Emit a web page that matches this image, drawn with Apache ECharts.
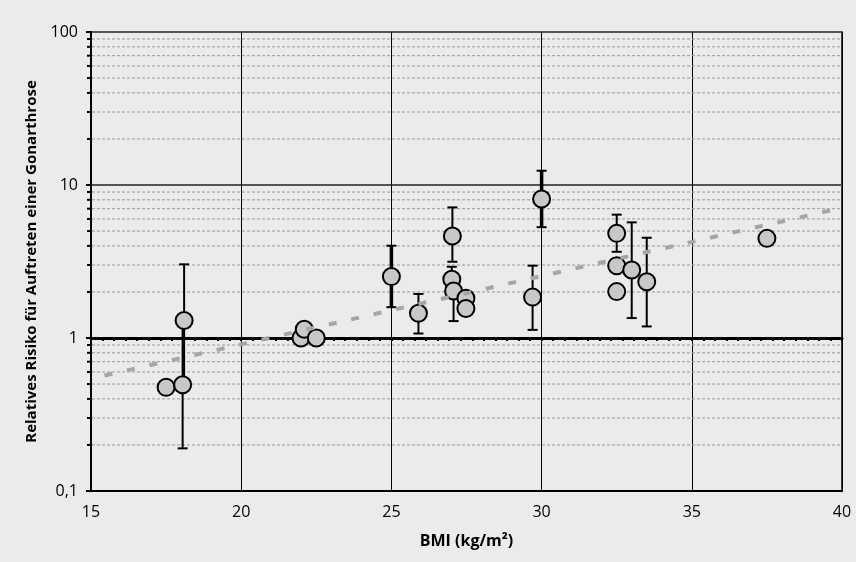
<!DOCTYPE html>
<html><head><meta charset="utf-8">
<script src="https://cdn.jsdelivr.net/npm/echarts@6/dist/echarts.min.js"></script>
<style>html,body{margin:0;padding:0;background:#ebebeb;}#c{width:856px;height:562px;}</style>
</head><body><div id="c"></div>
<script>
// Data (BMI, relative risk)
const points = [
  [17.5, 0.476], [18.05, 0.495], [18.1, 1.30],
  [21.99, 1.0], [22.1, 1.14], [22.5, 1.0],
  [25.0, 2.52], [25.9, 1.45],
  [27.03, 4.64], [27.01, 2.42], [27.07, 2.03], [27.48, 1.82], [27.48, 1.56],
  [29.7, 1.85], [30.0, 8.1],
  [32.5, 4.83], [32.5, 2.97], [32.5, 2.01], [33.0, 2.78], [33.5, 2.33],
  [37.5, 4.48]
];
// Error bars [x, low, high]
const errorBars = [
  [18.1, 0.50, 3.03], [18.05, 0.19, 1.30],
  [25.9, 1.07, 1.94],
  [27.03, 3.15, 7.14], [27.01, 2.0, 2.92], [27.07, 1.29, 2.40],
  [29.7, 1.13, 2.97],
  [32.5, 3.66, 6.4], [33.0, 1.35, 5.7], [33.5, 1.19, 4.52]
];
const errorBarsBold = [
  [25.0, 1.59, 4.01], [30.0, 5.3, 12.4]
];
// Trend line end points
const trend = [[15.45, 0.569], [40, 7.1]];
// Minor gridline values
const minorGrid = [0.2,0.3,0.4,0.5,0.6,0.7,0.8,0.9, 2,3,4,5,6,7,8,9, 20,30,40,50,60,70,80,90];
const xTitle = 'BMI (kg/m²)';
const yTitle = 'Relatives Risiko für Auftreten einer Gonarthrose';

const FONT = '"Open Sans", sans-serif';
const chart = echarts.init(document.getElementById('c'));

function errRender(width) {
  return function (params, api) {
    const x = api.value(0), lo = api.value(1), hi = api.value(2);
    const pt = api.coord([x, hi]), pb = api.coord([x, lo]);
    const h = 5;
    const st = { stroke: '#000', lineWidth: width };
    return { type: 'group', children: [
      { type: 'line', shape: { x1: pt[0], y1: pt[1], x2: pb[0], y2: pb[1] }, style: st },
      { type: 'line', shape: { x1: pt[0] - h, y1: pt[1], x2: pt[0] + h, y2: pt[1] }, style: { stroke: '#000', lineWidth: 2 } },
      { type: 'line', shape: { x1: pb[0] - h, y1: pb[1], x2: pb[0] + h, y2: pb[1] }, style: { stroke: '#000', lineWidth: 2 } }
    ]};
  };
}

chart.setOption({
  backgroundColor: '#ebebeb',
  animation: false,
  grid: { left: 91, right: 14, top: 32, bottom: 71, show: true, borderColor: '#000', borderWidth: 1.5, backgroundColor: 'transparent' },
  xAxis: [{
    type: 'value', min: 15, max: 40, interval: 5,
    name: xTitle, nameLocation: 'middle', nameGap: 42,
    nameTextStyle: { fontFamily: FONT, fontWeight: 'bold', fontSize: 16, color: '#000' },
    axisLine: { show: true, lineStyle: { color: '#000', width: 2 } },
    axisTick: { show: false },
    axisLabel: { fontFamily: FONT, fontSize: 16, color: '#000', margin: 13 },
    splitLine: { show: true, lineStyle: { color: '#000', width: 1 } }
  }, {
    type: 'value', min: 15, max: 40, interval: 5, position: 'bottom', offset: -153,
    axisLine: { show: true, lineStyle: { color: '#000', width: 3 } },
    axisTick: { show: true, length: 3, lineStyle: { color: '#000', width: 2 } },
    minorTick: { show: true, splitNumber: 13, length: 3, lineStyle: { color: '#000', width: 2 } },
    axisLabel: { show: false },
    splitLine: { show: false }
  }],
  yAxis: {
    type: 'log', logBase: 10, min: 0.1, max: 100,
    name: yTitle, nameLocation: 'middle', nameGap: 51,
    nameTextStyle: { fontFamily: FONT, fontWeight: 'bold', fontSize: 15, color: '#000' },
    axisLine: { show: true, lineStyle: { color: '#000', width: 2 } },
    axisTick: { show: true, length: 5, lineStyle: { color: '#000', width: 2 } },
    axisLabel: { fontFamily: FONT, fontSize: 16, color: '#000', margin: 13,
      formatter: v => String(v).replace('.', ',') },
    splitLine: { show: true, lineStyle: { color: '#555', width: 2 } }
  },
  series: [
    {
      type: 'custom', xAxisIndex: 0, z: 1, silent: true, clip: false,
      data: minorGrid.map(v => [v]),
      renderItem: function (params, api) {
        const v = api.value(0);
        const a = api.coord([15, v]), b = api.coord([40, v]);
        return { type: 'group', children: [
          { type: 'line', shape: { x1: a[0] + 1, y1: a[1], x2: b[0], y2: b[1] },
            style: { stroke: '#9a9a9a', lineWidth: 1, lineDash: [3, 2] } },
          { type: 'line', shape: { x1: a[0] - 4, y1: a[1], x2: a[0], y2: a[1] },
            style: { stroke: '#000', lineWidth: 2 } }
        ]};
      },
      encode: { y: 0 }
    },
    { type: 'custom', z: 3, silent: true, data: errorBars, renderItem: errRender(2), encode: { x: 0, y: [1, 2] } },
    { type: 'custom', z: 3, silent: true, data: errorBarsBold, renderItem: errRender(3.5), encode: { x: 0, y: [1, 2] } },
    {
      type: 'scatter', z: 4, data: points, symbol: 'circle', symbolSize: 17,
      itemStyle: { color: '#c8c8c8', borderColor: '#000', borderWidth: 2, opacity: 1 }
    },
    {
      type: 'line', z: 5, data: trend, symbol: 'none', silent: true,
      lineStyle: { color: '#a6a6a6', width: 4, type: [8, 15] }
    }
  ]
});
</script></body></html>
